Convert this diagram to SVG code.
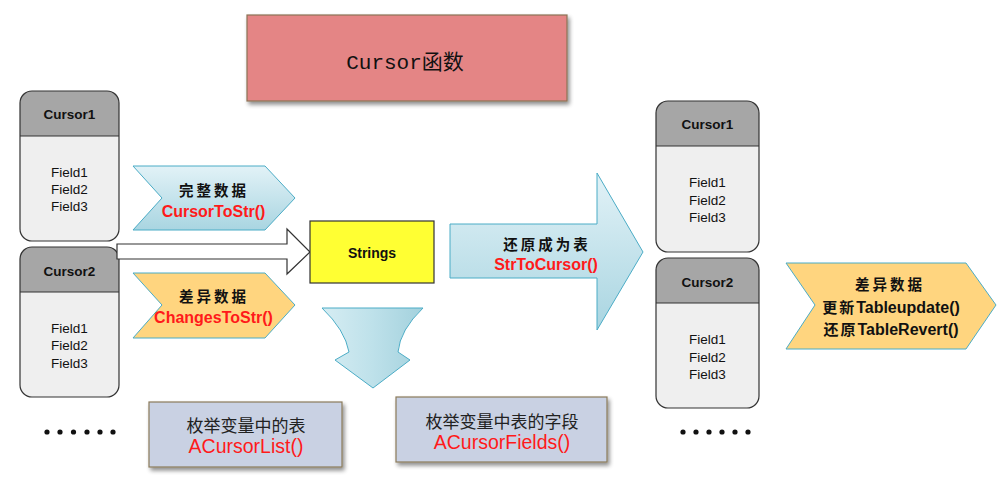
<svg xmlns="http://www.w3.org/2000/svg" width="1000" height="489" viewBox="0 0 1000 489">
<defs>
<style>
.hdr{fill:#A6A6A6;}
.body{fill:#EFEFEF;}
.frame{fill:none;stroke:#333;stroke-width:1.2;}
.hl{stroke:#333;stroke-width:1.2;}
.ct{font-family:"Liberation Sans",Arial,sans-serif;font-size:13.5px;font-weight:bold;fill:#111;text-anchor:middle;}
.ft{font-family:"Liberation Sans",Arial,sans-serif;font-size:13.5px;fill:#111;text-anchor:middle;}
.cn{font-family:"Noto Sans CJK SC",sans-serif;font-size:14.5px;font-weight:bold;fill:#111;text-anchor:middle;letter-spacing:3px;}
.red{font-family:"Liberation Sans",Arial,sans-serif;font-size:16px;font-weight:bold;fill:#FF1A1A;text-anchor:middle;}
.blk{font-family:"Liberation Sans","Noto Sans CJK SC",sans-serif;font-size:16px;font-weight:bold;fill:#111;text-anchor:middle;}
.enumbox{fill:#C9D1E3;stroke:#8B7B5A;stroke-width:1.2;}
.ecn{font-family:"Noto Sans CJK SC",serif;font-size:17px;fill:#222;text-anchor:middle;}
.ered{font-family:"Liberation Sans",Arial,sans-serif;font-size:19.5px;fill:#FF1A1A;text-anchor:middle;}
.blue{fill:url(#gBlue);stroke:#4BACC6;stroke-width:1;}
.orange{fill:#FFD57F;stroke:#4BACC6;stroke-width:1;}
</style>
<linearGradient id="gBlue" x1="0" y1="0" x2="0" y2="1">
<stop offset="0" stop-color="#E2F2F7"/>
<stop offset="1" stop-color="#A9D5E1"/>
</linearGradient>
<linearGradient id="gBlueH" x1="0" y1="0" x2="1" y2="0">
<stop offset="0" stop-color="#D6EDF3"/>
<stop offset="0.5" stop-color="#BEE1EA"/>
<stop offset="1" stop-color="#A3D1DD"/>
</linearGradient>
<filter id="sh" x="-10%" y="-10%" width="125%" height="130%">
<feGaussianBlur in="SourceAlpha" stdDeviation="2"/>
<feOffset dx="2" dy="3" result="b"/>
<feComponentTransfer><feFuncA type="linear" slope="0.45"/></feComponentTransfer>
<feMerge><feMergeNode/><feMergeNode in="SourceGraphic"/></feMerge>
</filter>
</defs>
<rect width="1000" height="489" fill="#fff"/>

<g id="title">
<rect x="247" y="15" width="320" height="86" fill="#E48585" stroke="#8B7355" stroke-width="1.2" filter="url(#sh)"/>
<text x="405" y="69" font-family="'Liberation Mono','Noto Sans CJK SC',monospace" font-size="21" fill="#111" text-anchor="middle">Cursor函数</text>
</g>

<g id="cursor1-left">
<path class="hdr" d="M20,136 V103 Q20,91 32,91 H107 Q119,91 119,103 V136 Z"/>
<path class="body" d="M20,136 H119 V229 Q119,241 107,241 H32 Q20,241 20,229 Z"/>
<rect class="frame" x="20" y="91" width="99" height="150" rx="12"/>
<line class="hl" x1="20" y1="136" x2="119" y2="136"/>
<text class="ct" x="69.5" y="119">Cursor1</text>
<text class="ft" x="69.5" y="177">Field1</text>
<text class="ft" x="69.5" y="194">Field2</text>
<text class="ft" x="69.5" y="211">Field3</text>
</g>

<g id="cursor2-left">
<path class="hdr" d="M20,292 V259 Q20,247 32,247 H107 Q119,247 119,259 V292 Z"/>
<path class="body" d="M20,292 H119 V385 Q119,397 107,397 H32 Q20,397 20,385 Z"/>
<rect class="frame" x="20" y="247" width="99" height="150" rx="12"/>
<line class="hl" x1="20" y1="292" x2="119" y2="292"/>
<text class="ct" x="69.5" y="276">Cursor2</text>
<text class="ft" x="69.5" y="333">Field1</text>
<text class="ft" x="69.5" y="350">Field2</text>
<text class="ft" x="69.5" y="368">Field3</text>
</g>

<g id="dots-left" fill="#111">
<circle cx="47" cy="432" r="2.6"/><circle cx="60" cy="432" r="2.6"/><circle cx="73.5" cy="432" r="2.6"/>
<circle cx="87" cy="432" r="2.6"/><circle cx="100" cy="432" r="2.6"/><circle cx="113" cy="432" r="2.6"/>
</g>

<g id="connectors">
<polygon points="117,244 287,244 287,229 310,252 287,274 287,259 117,259" fill="#fff" stroke="#333" stroke-width="1.2"/>
<path d="M450,224 H597 V173 L643,252 L597,330 V278 H450 Z" fill="url(#gBlue)" stroke="#4BACC6" stroke-width="1"/>
<path d="M322,308 H423 Q400,330 398,352 L410,360 L373,388 L335,360 L349,352 Q345,330 322,308 Z" fill="url(#gBlueH)" stroke="#4BACC6" stroke-width="1"/>
</g>

<g id="cursortostr">
<polygon class="blue" points="133,166 265,166 295,198 265,230 133,230 162,198"/>
<text class="cn" x="214" y="196">完整数据</text>
<text class="red" x="213.5" y="217">CursorToStr()</text>
</g>

<g id="changestostr">
<polygon class="orange" points="133,273 265,273 295,305 265,338 133,338 162,305"/>
<text class="cn" x="214" y="302">差异数据</text>
<text class="red" x="213.5" y="323">ChangesToStr()</text>
</g>

<g id="strings">
<rect x="310" y="221" width="124" height="62" fill="#FFFF33" stroke="#333" stroke-width="1.2"/>
<text class="ct" x="372" y="258" style="font-size:14px">Strings</text>
</g>

<g id="strtocursor">
<text class="cn" x="547" y="250">还原成为表</text>
<text class="red" x="546" y="270">StrToCursor()</text>
</g>

<g id="acursorlist">
<rect class="enumbox" x="149" y="402" width="193" height="65" filter="url(#sh)"/>
<text class="ecn" x="246" y="432">枚举变量中的表</text>
<text class="ered" x="246" y="453">ACursorList()</text>
</g>

<g id="acursorfields">
<rect class="enumbox" x="396" y="397" width="211" height="65" filter="url(#sh)"/>
<text class="ecn" x="502" y="428">枚举变量中表的字段</text>
<text class="ered" x="502" y="449">ACursorFields()</text>
</g>

<g id="cursor1-right">
<path class="hdr" d="M656,146 V113 Q656,101 668,101 H747 Q759,101 759,113 V146 Z"/>
<path class="body" d="M656,146 H759 V240 Q759,252 747,252 H668 Q656,252 656,240 Z"/>
<rect class="frame" x="656" y="101" width="103" height="151" rx="12"/>
<line class="hl" x1="656" y1="146" x2="759" y2="146"/>
<text class="ct" x="707.5" y="129">Cursor1</text>
<text class="ft" x="707.5" y="187">Field1</text>
<text class="ft" x="707.5" y="205">Field2</text>
<text class="ft" x="707.5" y="222">Field3</text>
</g>

<g id="cursor2-right">
<path class="hdr" d="M656,303 V270 Q656,258 668,258 H747 Q759,258 759,270 V303 Z"/>
<path class="body" d="M656,303 H759 V396 Q759,408 747,408 H668 Q656,408 656,396 Z"/>
<rect class="frame" x="656" y="258" width="103" height="150" rx="12"/>
<line class="hl" x1="656" y1="303" x2="759" y2="303"/>
<text class="ct" x="707.5" y="287">Cursor2</text>
<text class="ft" x="707.5" y="344">Field1</text>
<text class="ft" x="707.5" y="362">Field2</text>
<text class="ft" x="707.5" y="379">Field3</text>
</g>

<g id="dots-right" fill="#111">
<circle cx="683" cy="432" r="2.6"/><circle cx="696" cy="432" r="2.6"/><circle cx="709" cy="432" r="2.6"/>
<circle cx="722" cy="432" r="2.6"/><circle cx="735" cy="432" r="2.6"/><circle cx="748" cy="432" r="2.6"/>
</g>

<g id="tableupdate">
<polygon class="orange" points="786,263 966,263 996,305 966,349 786,349 815,305"/>
<text class="cn" x="890" y="290">差异数据</text>
<text class="blk" x="891" y="313"><tspan style="font-size:15px" letter-spacing="2">更新</tspan>Tableupdate()</text>
<text class="blk" x="891" y="335"><tspan style="font-size:15px" letter-spacing="2">还原</tspan>TableRevert()</text>
</g>
</svg>
